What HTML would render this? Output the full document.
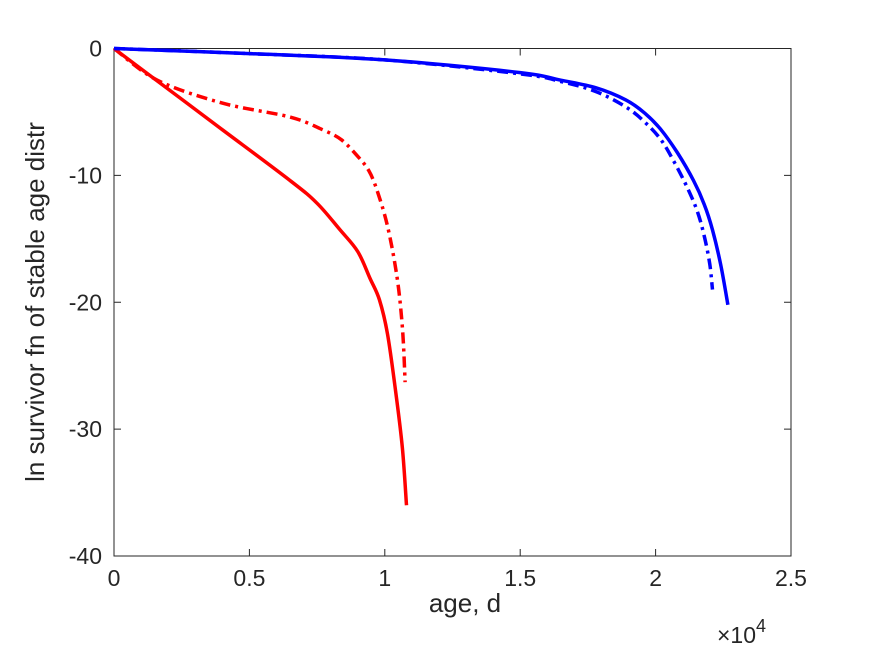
<!DOCTYPE html>
<html><head><meta charset="utf-8"><style>
body{margin:0;background:#fff}
svg text{font-family:"Liberation Sans",sans-serif;fill:#262626}
</style></head><body>
<svg width="875" height="656" xmlns="http://www.w3.org/2000/svg">
<rect width="875" height="656" fill="#fff"/>
<g id="plot"></g>
</svg>
<script>
const xTicks=[0,0.5,1,1.5,2,2.5];
const yTicks=[0,-10,-20,-30,-40];
const redSolidX=[0,0.20,0.40,0.65,0.75,0.835,0.90,0.945,0.98,1.01,1.04,1.065,1.08];
const redSolidY=[0,-3.2,-6.4,-10.4,-12.2,-14.3,-16.0,-18.1,-19.8,-22.5,-27.0,-31.5,-36.0];
const redDashX=[0,0.16,0.40,0.65,0.77,0.84,0.90,0.94,0.97,1.01,1.045,1.065,1.075];
const redDashY=[0,-2.5,-4.3,-5.4,-6.4,-7.2,-8.5,-9.6,-11.1,-14.0,-18.0,-22.0,-26.3];
const blueSolidX=[0,0.5,1.0,1.5,1.65,1.78,1.89,1.96,2.02,2.08,2.14,2.18,2.21,2.24,2.267];
const blueSolidY=[0,-0.4,-0.9,-1.9,-2.5,-3.1,-4.05,-5.1,-6.4,-8.2,-10.4,-12.3,-14.3,-17.0,-20.2];
const blueDashX=[0,0.5,1.0,1.5,1.65,1.78,1.89,1.96,2.02,2.07,2.12,2.155,2.18,2.20,2.21];
const blueDashY=[0,-0.4,-0.9,-2.0,-2.6,-3.4,-4.6,-5.8,-7.2,-9.0,-11.1,-12.9,-14.8,-17.0,-19.0];
const L=114,R=791,T=48.5,B=556;
const sx=v=>L+(v-0)/2.5*(R-L);
const sy=v=>T+(0-v)/40*(B-T);
const NS="http://www.w3.org/2000/svg";
const g=document.getElementById('plot');
function mk(t,a){const e=document.createElementNS(NS,t);for(const k in a)e.setAttribute(k,a[k]);g.appendChild(e);return e;}
const box=mk('rect',{x:L,y:T,width:R-L,height:B-T,fill:'none',stroke:'#262626','stroke-width':1});


xTicks.forEach(v=>{
 const x=sx(v);
 const t1=mk('line',{x1:x,x2:x,y1:B,y2:B-7,stroke:'#262626'});
 
 
 mk('line',{x1:x,x2:x,y1:T,y2:T+7,stroke:'#262626'});
 const tx=mk('text',{x:x,y:B+30,'font-size':23,'text-anchor':'middle'});
 tx.textContent=String(v);
 
 
});
yTicks.forEach(v=>{
 const y=sy(v);
 const t1=mk('line',{x1:L,x2:L+7,y1:y,y2:y,stroke:'#262626'});
 
 
 mk('line',{x1:R,x2:R-7,y1:y,y2:y,stroke:'#262626'});
 const tx=mk('text',{x:L-12,y:y+8,'font-size':23,'text-anchor':'end'});
 tx.textContent=String(v);
 
 
});
function smooth(xs,ys){
 const p=xs.map((v,i)=>[sx(v),sy(ys[i])]);
 let d='M'+p[0][0].toFixed(1)+','+p[0][1].toFixed(1);
 for(let i=0;i<p.length-1;i++){
  const p0=p[Math.max(0,i-1)],p1=p[i],p2=p[i+1],p3=p[Math.min(p.length-1,i+2)];
  const c1=[p1[0]+(p2[0]-p0[0])/6,p1[1]+(p2[1]-p0[1])/6];
  const c2=[p2[0]-(p3[0]-p1[0])/6,p2[1]-(p3[1]-p1[1])/6];
  d+='C'+c1[0].toFixed(1)+','+c1[1].toFixed(1)+' '+c2[0].toFixed(1)+','+c2[1].toFixed(1)+' '+p2[0].toFixed(1)+','+p2[1].toFixed(1);
 }
 return d;
}
function line(xs,ys,col,dash,name){
 const p=mk('path',{d:smooth(xs,ys),fill:'none',stroke:col,'stroke-width':3.5,'stroke-linejoin':'round'});
 if(dash)p.setAttribute('stroke-dasharray','11,5,3,5');
 
 
}
line(redSolidX,redSolidY,'#ff0000',false,'red-solid-series');
line(redDashX,redDashY,'#ff0000',true,'red-dashdot-series');
line(blueSolidX,blueSolidY,'#0000ff',false,'blue-solid-series');
line(blueDashX,blueDashY,'#0000ff',true,'blue-dashdot-series');
const xl=mk('text',{x:465,y:612,'font-size':26,'text-anchor':'middle'});xl.textContent='age, d';


const yl=mk('text',{x:0,y:0,'font-size':26,'text-anchor':'middle',transform:'translate(44,302) rotate(-90)'});yl.textContent='ln survivor fn of stable age distr';


const ex=mk('text',{x:717,y:643,'font-size':23});ex.innerHTML='×10<tspan dy="-11" font-size="18">4</tspan>';


</script>
</body></html>
